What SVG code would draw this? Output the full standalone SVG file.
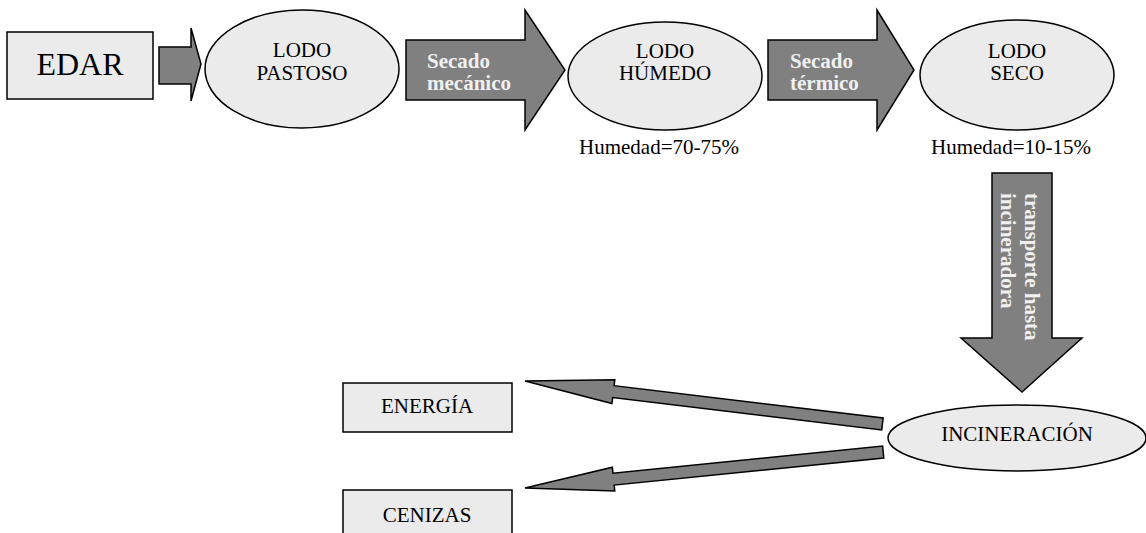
<svg xmlns="http://www.w3.org/2000/svg" width="1146" height="533" viewBox="0 0 1146 533">
<style>
text{font-family:"Liberation Serif","Times New Roman",serif;fill:#000}
.n{fill:#ebebeb;stroke:#000;stroke-width:1.5}
.a{fill:#808080;stroke:#000;stroke-width:1.5;stroke-linejoin:miter}
.t{font-size:21px}
.lab{font-size:21px;font-weight:bold;fill:#f0f0f0}
</style>
<rect width="1146" height="533" fill="#fff"/>
<g id="connectors">
<polygon class="a" points="159,47 191,47 191,28 201,64 191,101 191,84 159,84"/>
<g id="arrow-secado-mecanico">
<polygon class="a" points="406,40 525,40 525,10 565,70 525,130 525,100 406,100"/>
<text class="lab" x="427" y="68">Secado</text>
<text class="lab" x="427" y="90">mecánico</text>
</g>
<g id="arrow-secado-termico">
<polygon class="a" points="768,40 877,40 877,10 914,70 877,130 877,100 768,100"/>
<text class="lab" x="790" y="68">Secado</text>
<text class="lab" x="790" y="90">térmico</text>
</g>
<g id="arrow-transporte">
<polygon class="a" points="992,173 1052,173 1052,338 1082,338 1022,392 961,338 992,338"/>
<text class="lab" transform="translate(1025,193) rotate(90)">transporte hasta</text>
<text class="lab" transform="translate(1001,193) rotate(90)">incineradora</text>
</g>
<polygon class="a" transform="translate(525,381) rotate(186.85)" points="0,0 -89,-12 -89,-6 -360,-6 -360,6 -89,6 -89,12"/>
<polygon class="a" transform="translate(525,488) rotate(174.26)" points="0,0 -89,-12 -89,-6 -360,-6 -360,6 -89,6 -89,12"/>
</g>
<g id="edar">
<rect class="n" x="7" y="32" width="146" height="67"/>
<text x="80" y="75" font-size="32" text-anchor="middle">EDAR</text>
</g>
<g id="lodo-pastoso">
<ellipse class="n" cx="302" cy="69" rx="97" ry="59"/>
<text class="t" x="302" y="57" text-anchor="middle">LODO</text>
<text class="t" x="302" y="80" text-anchor="middle">PASTOSO</text>
</g>
<g id="lodo-humedo">
<ellipse class="n" cx="665" cy="76" rx="97" ry="54"/>
<text class="t" x="665" y="58" text-anchor="middle">LODO</text>
<text class="t" x="665" y="80" text-anchor="middle">HÚMEDO</text>
<text class="t" x="659" y="154" text-anchor="middle">Humedad=70-75%</text>
</g>
<g id="lodo-seco">
<ellipse class="n" cx="1017" cy="75" rx="97" ry="55"/>
<text class="t" x="1017" y="58" text-anchor="middle">LODO</text>
<text class="t" x="1017" y="80" text-anchor="middle">SECO</text>
<text class="t" x="1011" y="154" text-anchor="middle">Humedad=10-15%</text>
</g>
<g id="incineracion">
<ellipse class="n" cx="1017" cy="438" rx="129" ry="33"/>
<text class="t" x="1017" y="441" text-anchor="middle">INCINERACIÓN</text>
</g>
<g id="energia">
<rect class="n" x="343" y="383" width="169" height="49"/>
<text class="t" x="427" y="413" text-anchor="middle">ENERGÍA</text>
</g>
<g id="cenizas">
<rect class="n" x="343" y="490" width="169" height="49"/>
<text class="t" x="427" y="522" text-anchor="middle">CENIZAS</text>
</g>
</svg>
